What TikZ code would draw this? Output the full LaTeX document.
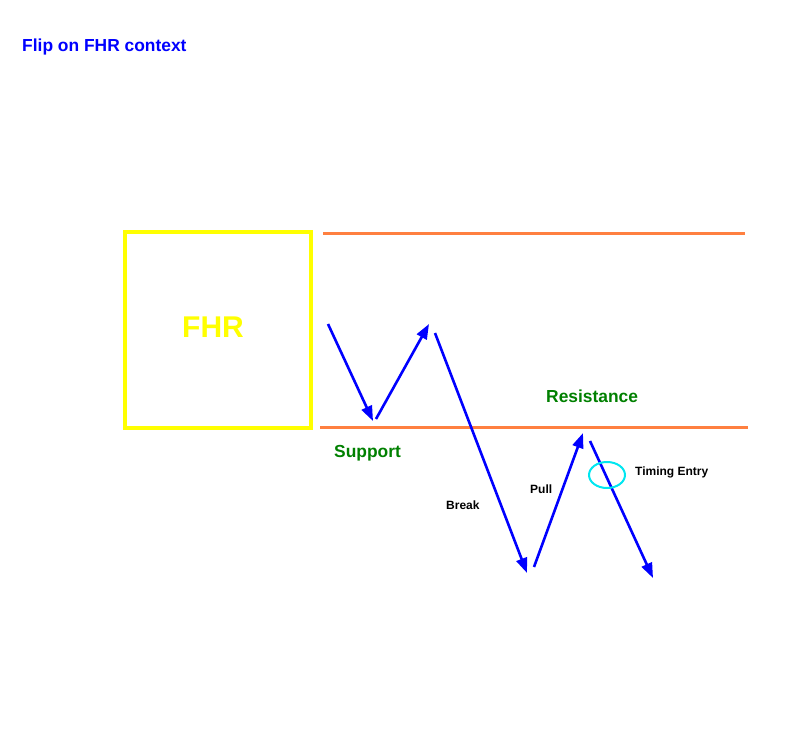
\documentclass[tikz,border=0pt]{standalone}
\usepackage{fontspec}
\setmainfont{Liberation Sans}
\usetikzlibrary{arrows.meta,shapes.geometric}
\definecolor{orline}{RGB}{255,128,64}
\definecolor{fhryellow}{RGB}{255,255,0}
\definecolor{ttlblue}{RGB}{0,0,255}
\definecolor{lblgreen}{RGB}{0,128,0}
\definecolor{entrycyan}{RGB}{0,230,240}
\begin{document}
\begin{tikzpicture}[x=1pt,y=-1pt,
  level/.style={draw=orline,line width=3pt},
  move/.style={draw=ttlblue,line width=2.6pt,-{Triangle[length=15pt,width=11pt]}},
  biglbl/.style={font=\fontsize{17.4}{20}\selectfont\bfseries,text=lblgreen,inner sep=0pt},
  smalllbl/.style={font=\fontsize{12}{14}\selectfont\bfseries,text=black,inner sep=0pt}]
\useasboundingbox (0,0) rectangle (788,750);
\node[font=\fontsize{17.4}{20}\selectfont\bfseries,text=ttlblue,anchor=west,inner sep=0pt] (title) at (22,47) {Flip on FHR context};
% FHR box
\node[draw=fhryellow,line width=3.2pt,minimum width=186pt,minimum height=196pt,inner sep=0pt] (fhr) at (218,330) {};
\node[font=\fontsize{30}{32}\selectfont\bfseries,text=fhryellow,inner sep=0pt] (fhrlbl) at (213,327) {FHR};
% levels
\coordinate (r1) at (323,233); \coordinate (r2) at (745,233);
\coordinate (s1) at (320,427); \coordinate (s2) at (748,427);
\draw[level] (r1) -- (r2);
\draw[level] (s1) -- (s2);
% price moves
\coordinate (a0) at (328,324); \coordinate (a1) at (373,421);
\coordinate (b0) at (376,419); \coordinate (b1) at (429,324);
\coordinate (c0) at (435,333); \coordinate (c1) at (527,573);
\coordinate (d0) at (534,567); \coordinate (d1) at (583,433);
\coordinate (e0) at (590,441); \coordinate (e1) at (653,578);
\draw[move] (a0) -- (a1);
\draw[move] (b0) -- (b1);
\draw[move] (c0) -- (c1);
\draw[move] (d0) -- (d1);
\draw[move] (e0) -- (e1);
% entry marker
\node[draw=entrycyan,line width=2pt,ellipse,minimum width=36pt,minimum height=26pt,inner sep=0pt] (entry) at (607,475) {};
% labels
\node[biglbl,anchor=west] (res) at (546,396) {Resistance};
\node[biglbl,anchor=west] (sup) at (334,453) {Support};
\node[smalllbl,anchor=west] (brk) at (446,505) {Break};
\node[smalllbl,anchor=west] (pul) at (530,489) {Pull};
\node[smalllbl,anchor=west] (tim) at (635,472) {Timing Entry};
\end{tikzpicture}
\end{document}
